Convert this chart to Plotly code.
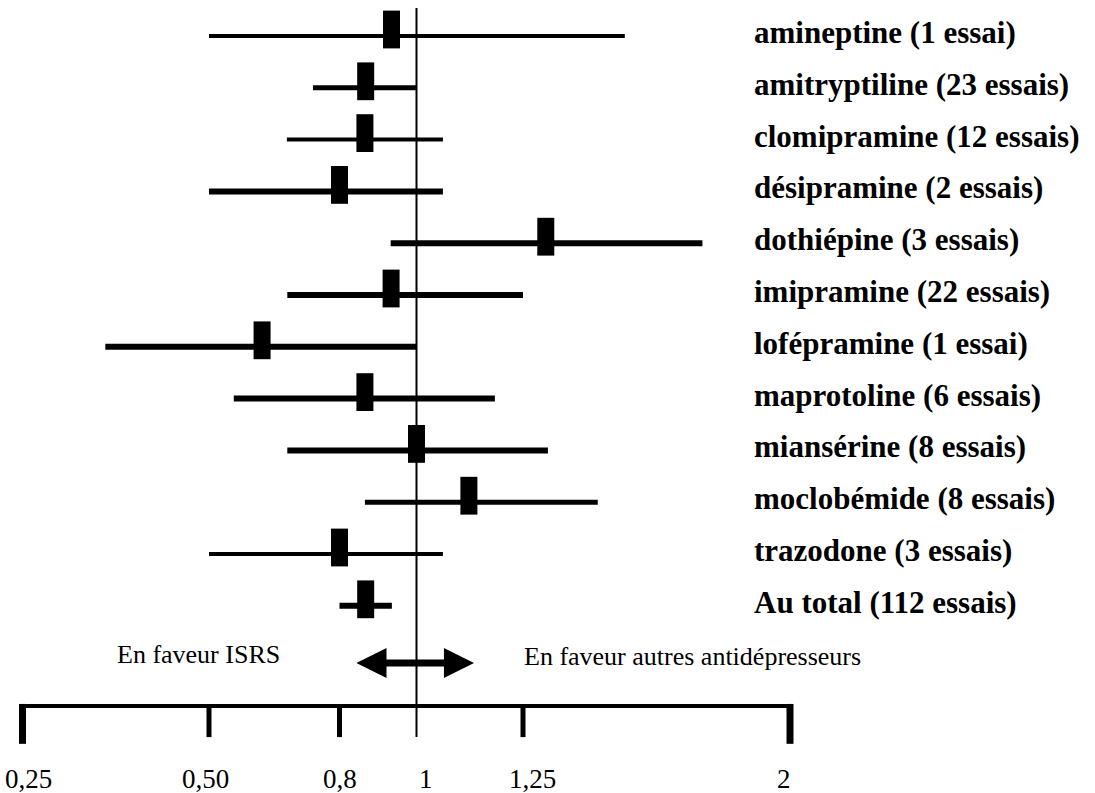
import numpy as np
import plotly.graph_objects as go

# ---------------- data ----------------
drugs = [
    "amineptine (1 essai)", "amitryptiline (23 essais)", "clomipramine (12 essais)",
    "désipramine (2 essais)", "dothiépine (3 essais)", "imipramine (22 essais)",
    "lofépramine (1 essai)", "maprotoline (6 essais)", "miansérine (8 essais)",
    "moclobémide (8 essais)", "trazodone (3 essais)", "Au total (112 essais)",
]
odds_ratio = [0.935, 0.868, 0.866, 0.80, 1.314, 0.934, 0.622, 0.866, 1.00, 1.123, 0.80, 0.868]
ci_low = [0.50, 0.739, 0.679, 0.50, 0.933, 0.68, 0.361, 0.557, 0.68, 0.866, 0.50, 0.80]
ci_high = [1.536, 1.00, 1.062, 1.062, 1.754, 1.25, 1.00, 1.184, 1.32, 1.46, 1.062, 0.936]

tick_vals = [0.25, 0.5, 0.8, 1.0, 1.25, 2.0]
tick_text = ["0,25", "0,50", "0,8", "1", "1,25", "2"]

left_note = "En faveur ISRS"
right_note = "En faveur autres antidépresseurs"
arrow_span = [0.84, 1.135]

# ---------------- styles / layout of the hand-drawn scale ----------------
TICK_SPACING = [0, 186.5, 317, 394, 500.5, 767.5]   # non-uniform ruler of the original
LINE_W = [4, 5, 4, 6, 6, 6, 6, 6, 6, 5, 4, 6]
LABEL_NUDGE = [5.5, -4, 0.5, 9.5, 9, -6]
FONT = "Liberation Serif"
LINE_OFF = 0.125
ARROW_ROW = 12.23
AXIS_ROW = 13.06
TICKLABEL_ROW = 14.47


def sx(v):
    return np.interp(v, tick_vals, TICK_SPACING)


fig = go.Figure()

n = len(drugs)
for i in range(n):
    fig.add_trace(go.Scatter(
        x=[sx(ci_low[i]), sx(ci_high[i])], y=[i + LINE_OFF, i + LINE_OFF],
        mode="lines", line=dict(color="black", width=LINE_W[i]),
        hoverinfo="skip", showlegend=False,
    ))

fig.add_trace(go.Scatter(
    x=sx(odds_ratio), y=list(range(n)), mode="markers",
    marker=dict(symbol="line-ns", size=27, color="black",
                line=dict(color="black", width=17)),
    text=drugs, hoverinfo="text", showlegend=False,
))

shapes = []
# vertical line at 1
shapes.append(dict(type="line", xref="x", yref="y", x0=sx(1), x1=sx(1),
                   y0=-0.415, y1=13.66, line=dict(color="black", width=2),
                   layer="below"))
# ruler
shapes.append(dict(type="line", xref="x", yref="y", x0=sx(tick_vals[0]),
                   x1=sx(tick_vals[-1]), y0=AXIS_ROW, y1=AXIS_ROW,
                   line=dict(color="black", width=4)))
for j, v in enumerate(tick_vals):
    if v == 1.0:
        continue
    end = j in (0, len(tick_vals) - 1)
    shapes.append(dict(type="line", xref="x", yref="y", x0=sx(v), x1=sx(v),
                       y0=13.02 if end else AXIS_ROW, y1=13.79 if end else 13.66,
                       line=dict(color="black", width=7 if end else 5)))

annotations = []
for i, name in enumerate(drugs):
    annotations.append(dict(xref="paper", yref="y", x=752 / 1095, y=i,
                            xanchor="left", yanchor="middle", showarrow=False,
                            yshift=-3, text="<b>%s</b>" % name,
                            font=dict(family=FONT, size=31, color="black")))
for j, (v, t) in enumerate(zip(tick_vals, tick_text)):
    annotations.append(dict(xref="x", yref="y", x=sx(v), y=TICKLABEL_ROW,
                            xanchor="center", yanchor="middle", showarrow=False,
                            xshift=LABEL_NUDGE[j], text=t,
                            font=dict(family=FONT, size=27, color="black")))
annotations.append(dict(xref="paper", yref="y", x=115 / 1095, y=12.07,
                        xanchor="left", yanchor="middle", showarrow=False,
                        text=left_note, font=dict(family=FONT, size=26, color="black")))
annotations.append(dict(xref="paper", yref="y", x=522 / 1095, y=12.11,
                        xanchor="left", yanchor="middle", showarrow=False,
                        text=right_note, font=dict(family=FONT, size=26, color="black")))
annotations.append(dict(xref="x", yref="y", x=sx(arrow_span[1]), y=ARROW_ROW,
                        axref="x", ayref="y", ax=sx(arrow_span[0]), ay=ARROW_ROW,
                        text="", showarrow=True, arrowhead=2, startarrowhead=2,
                        arrowside="end+start", arrowwidth=7, arrowsize=0.86,
                        startarrowsize=0.86, arrowcolor="black",
                        standoff=0, startstandoff=0))

fig.update_layout(
    width=1095, height=793,
    margin=dict(l=0, r=0, t=0, b=0),
    paper_bgcolor="white", plot_bgcolor="white",
    xaxis=dict(visible=False, range=[-22.5, 1072.5], fixedrange=True),
    yaxis=dict(visible=False, range=[14.739, -0.5695], fixedrange=True),
    shapes=shapes, annotations=annotations, showlegend=False,
)

fig.write_html(
    "out.html",
    config={"displayModeBar": False},
    post_script="document.body.style.margin='0px';document.body.style.overflow='hidden';",
)
